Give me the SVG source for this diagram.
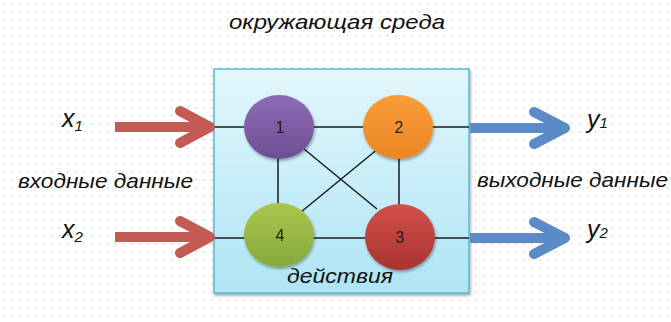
<svg xmlns="http://www.w3.org/2000/svg" width="671" height="322" viewBox="0 0 671 322">
<defs>
  <pattern id="dots" x="0" y="0" width="8" height="8" patternUnits="userSpaceOnUse">
    <rect x="3" y="3" width="1.3" height="1.3" fill="#c8c8c8"/>
  </pattern>
  <linearGradient id="boxg" x1="0" y1="0" x2="0" y2="1">
    <stop offset="0" stop-color="#e2f7fc"/>
    <stop offset="1" stop-color="#aee5f4"/>
  </linearGradient>
  <linearGradient id="g1" x1="0" y1="0" x2="0" y2="1">
    <stop offset="0" stop-color="#8f6bb8"/>
    <stop offset="1" stop-color="#6c4f93"/>
  </linearGradient>
  <linearGradient id="g2" x1="0" y1="0" x2="0" y2="1">
    <stop offset="0" stop-color="#fb9d3c"/>
    <stop offset="1" stop-color="#e98624"/>
  </linearGradient>
  <linearGradient id="g3" x1="0" y1="0" x2="0" y2="1">
    <stop offset="0" stop-color="#d2504c"/>
    <stop offset="1" stop-color="#a9332f"/>
  </linearGradient>
  <linearGradient id="g4" x1="0" y1="0" x2="0" y2="1">
    <stop offset="0" stop-color="#a9c64f"/>
    <stop offset="1" stop-color="#86a93a"/>
  </linearGradient>
  <filter id="sh" x="-20%" y="-20%" width="140%" height="140%">
    <feGaussianBlur in="SourceAlpha" stdDeviation="1.5"/>
    <feOffset dx="1" dy="1.5" result="b"/>
    <feComponentTransfer><feFuncA type="linear" slope="0.35"/></feComponentTransfer>
    <feMerge><feMergeNode/><feMergeNode in="SourceGraphic"/></feMerge>
  </filter>
</defs>
<style>
  .lbl { font-family: "Liberation Sans", "DejaVu Sans", sans-serif; font-style: italic; fill: #111; }
  .num { font-family: "Liberation Sans", "DejaVu Sans", sans-serif; font-size: 16px; fill: #1a1a1a; text-anchor: middle; }
  .edge { stroke: #1a1a1a; stroke-width: 1.5; fill: none; }
  .ain, .aout { stroke-width: 10; fill: none; stroke-linejoin: round; }
  .ain { stroke: #c55a55; }
  .aout { stroke: #5b8bc6; }
  .shaft { stroke-linecap: butt; }
  .head { stroke-linecap: round; }
</style>
<rect width="671" height="322" fill="#ffffff"/>
<rect width="671" height="322" fill="url(#dots)"/>

<text class="lbl" x="337" y="29" font-size="21" text-anchor="middle" textLength="216" lengthAdjust="spacingAndGlyphs">окружающая среда</text>

<g id="box">
  <rect x="214" y="69" width="255" height="224" fill="url(#boxg)" stroke="#5ab8d2" stroke-width="1.5" filter="url(#sh)"/>
  <text class="lbl" x="340" y="283" font-size="21" text-anchor="middle" textLength="106" lengthAdjust="spacingAndGlyphs">действия</text>
</g>

<g id="connectors">
  <line class="edge" x1="214" y1="127" x2="469" y2="127"/>
  <line class="edge" x1="214" y1="238" x2="469" y2="238"/>
  <line class="edge" x1="278" y1="158" x2="278" y2="205"/>
  <line class="edge" x1="399" y1="158" x2="399" y2="206"/>
  <line class="edge" x1="304" y1="149" x2="377" y2="209"/>
  <line class="edge" x1="379" y1="148" x2="301" y2="212"/>
  <path class="ain shaft" d="M115,127 H208"/>
  <path class="ain head" d="M180,111 L210,127 L180,143"/>
  <path class="ain shaft" d="M115,237 H208"/>
  <path class="ain head" d="M180,221 L210,237 L180,253"/>
  <path class="aout shaft" d="M470,128 H563"/>
  <path class="aout head" d="M534,112 L565,128 L534,144"/>
  <path class="aout shaft" d="M470,238 H563"/>
  <path class="aout head" d="M534,222 L565,238 L534,254"/>
</g>

<g id="node1" filter="url(#sh)">
  <ellipse cx="279" cy="127" rx="35" ry="32" fill="url(#g1)"/>
  <text class="num" x="280" y="133">1</text>
</g>
<g id="node2" filter="url(#sh)">
  <ellipse cx="398" cy="127" rx="35" ry="32" fill="url(#g2)"/>
  <text class="num" x="399" y="133">2</text>
</g>
<g id="node3" filter="url(#sh)">
  <ellipse cx="400" cy="237" rx="35" ry="33" fill="url(#g3)"/>
  <text class="num" x="400" y="243">3</text>
</g>
<g id="node4" filter="url(#sh)">
  <ellipse cx="279" cy="235" rx="35" ry="32" fill="url(#g4)"/>
  <text class="num" x="280" y="241">4</text>
</g>

<g id="inputs">
  <text class="lbl" x="62" y="127" font-size="25">x<tspan font-size="15" dy="4">1</tspan></text>
  <text class="lbl" x="62" y="238" font-size="25">x<tspan font-size="15" dy="4">2</tspan></text>
  <text class="lbl" x="18" y="188" font-size="21" textLength="175" lengthAdjust="spacingAndGlyphs">входные данные</text>
</g>
<g id="outputs">
  <text class="lbl" x="587" y="128" font-size="25">y<tspan font-size="15">1</tspan></text>
  <text class="lbl" x="587" y="238" font-size="25">y<tspan font-size="15">2</tspan></text>
  <text class="lbl" x="477" y="187" font-size="21" textLength="191" lengthAdjust="spacingAndGlyphs">выходные данные</text>
</g>
</svg>
